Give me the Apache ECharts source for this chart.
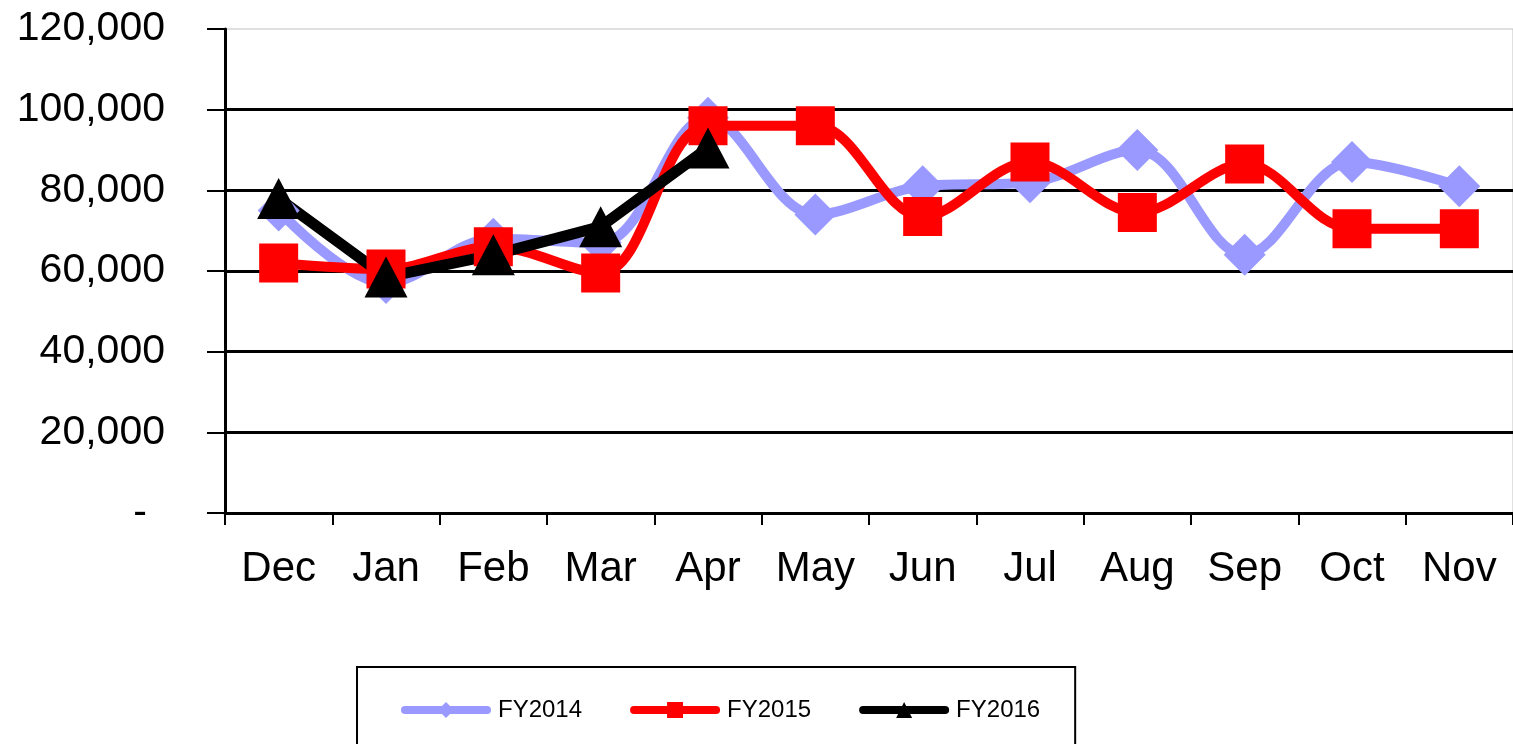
<!DOCTYPE html>
<html>
<head>
<meta charset="utf-8">
<script src="https://cdn.jsdelivr.net/npm/echarts@6/dist/echarts.min.js"></script>
<style>
  html, body { margin: 0; padding: 0; background: #fff; }
  #chart { width: 1513px; height: 744px; }
</style>
</head>
<body>
<div id="chart"></div>
<script>
const months = ['Dec', 'Jan', 'Feb', 'Mar', 'Apr', 'May', 'Jun', 'Jul', 'Aug', 'Sep', 'Oct', 'Nov'];
const fy2014 = [75000, 57000, 68000, 67000, 98000, 74000, 81000, 82000, 90000, 64000, 87000, 81000];
const fy2015 = [62000, 60500, 66000, 59500, 96000, 96000, 73500, 87000, 74500, 86500, 70500, 70500];
const fy2016 = [78000, 58500, 64000, 71000, 90500, null, null, null, null, null, null, null];
const yMin = 0;
const yMax = 120000;
const yStep = 20000;

const font = 'Liberation Sans, Arial, sans-serif';
const chart = echarts.init(document.getElementById('chart'));

function fmt(v) {
    if (v === 0) return '{dash|-}';
    return v.toString().replace(/\B(?=(\d{3})+(?!\d))/g, ',');
}

chart.setOption({
    animation: false,
    backgroundColor: '#fff',
    grid: {
        left: 225,
        top: 29,
        width: 1289,
        height: 484,
        show: true,
        borderColor: '#c0c0c0',
        borderWidth: 1,
    },
    legend: {
        left: 357,
        top: 667,
        orient: 'horizontal',
        padding: [31, 35, 31, 44],
        borderColor: '#000',
        borderWidth: 2,
        itemWidth: 82,
        itemHeight: 20,
        itemGap: 48,
        lineStyle: {width: 8, cap: 'round'},
        textStyle: {
            fontFamily: font,
            fontSize: 24,
            color: '#000',
            padding: [0, 0, 0, 6],
        },
        data: ['FY2014', 'FY2015', 'FY2016'],
    },
    xAxis: {
        type: 'category',
        data: months,
        boundaryGap: true,
        axisLine: {lineStyle: {color: '#000', width: 3}},
        axisTick: {show: true, length: 12, lineStyle: {color: '#000', width: 2}},
        axisLabel: {
            margin: 35,
            color: '#000',
            fontFamily: font,
            fontSize: 42,
        },
        splitLine: {show: false},
    },
    yAxis: {
        type: 'value',
        min: yMin,
        max: yMax,
        interval: yStep,
        axisLine: {show: true, lineStyle: {color: '#000', width: 3}},
        axisTick: {show: true, length: 18, lineStyle: {color: '#000', width: 2}},
        axisLabel: {
            margin: 60,
            color: '#000',
            fontFamily: font,
            fontSize: 41,
            formatter: fmt,
            rich: {
                dash: {fontFamily: font, fontSize: 41, color: '#000', padding: [0, 18, 0, 0]},
            },
        },
        splitLine: {
            show: true,
            lineStyle: {
                color: ['#000', '#000', '#000', '#000', '#000', '#000', 'rgba(0,0,0,0)'],
                width: 3,
            },
        },
    },
    series: [
        {
            name: 'FY2014',
            type: 'line',
            smooth: 0.35,
            data: fy2014,
            symbol: 'diamond',
            symbolSize: 42,
            lineStyle: {color: '#9999ff', width: 10},
            itemStyle: {color: '#9999ff'},
        },
        {
            name: 'FY2015',
            type: 'line',
            smooth: 0.35,
            data: fy2015,
            symbol: 'rect',
            symbolSize: 39,
            lineStyle: {color: '#ff0000', width: 10},
            itemStyle: {color: '#ff0000'},
        },
        {
            name: 'FY2016',
            type: 'line',
            smooth: false,
            data: fy2016,
            symbol: 'triangle',
            symbolSize: [43, 41],
            lineStyle: {color: '#000', width: 11},
            itemStyle: {color: '#000'},
        },
    ],
});
</script>
</body>
</html>
